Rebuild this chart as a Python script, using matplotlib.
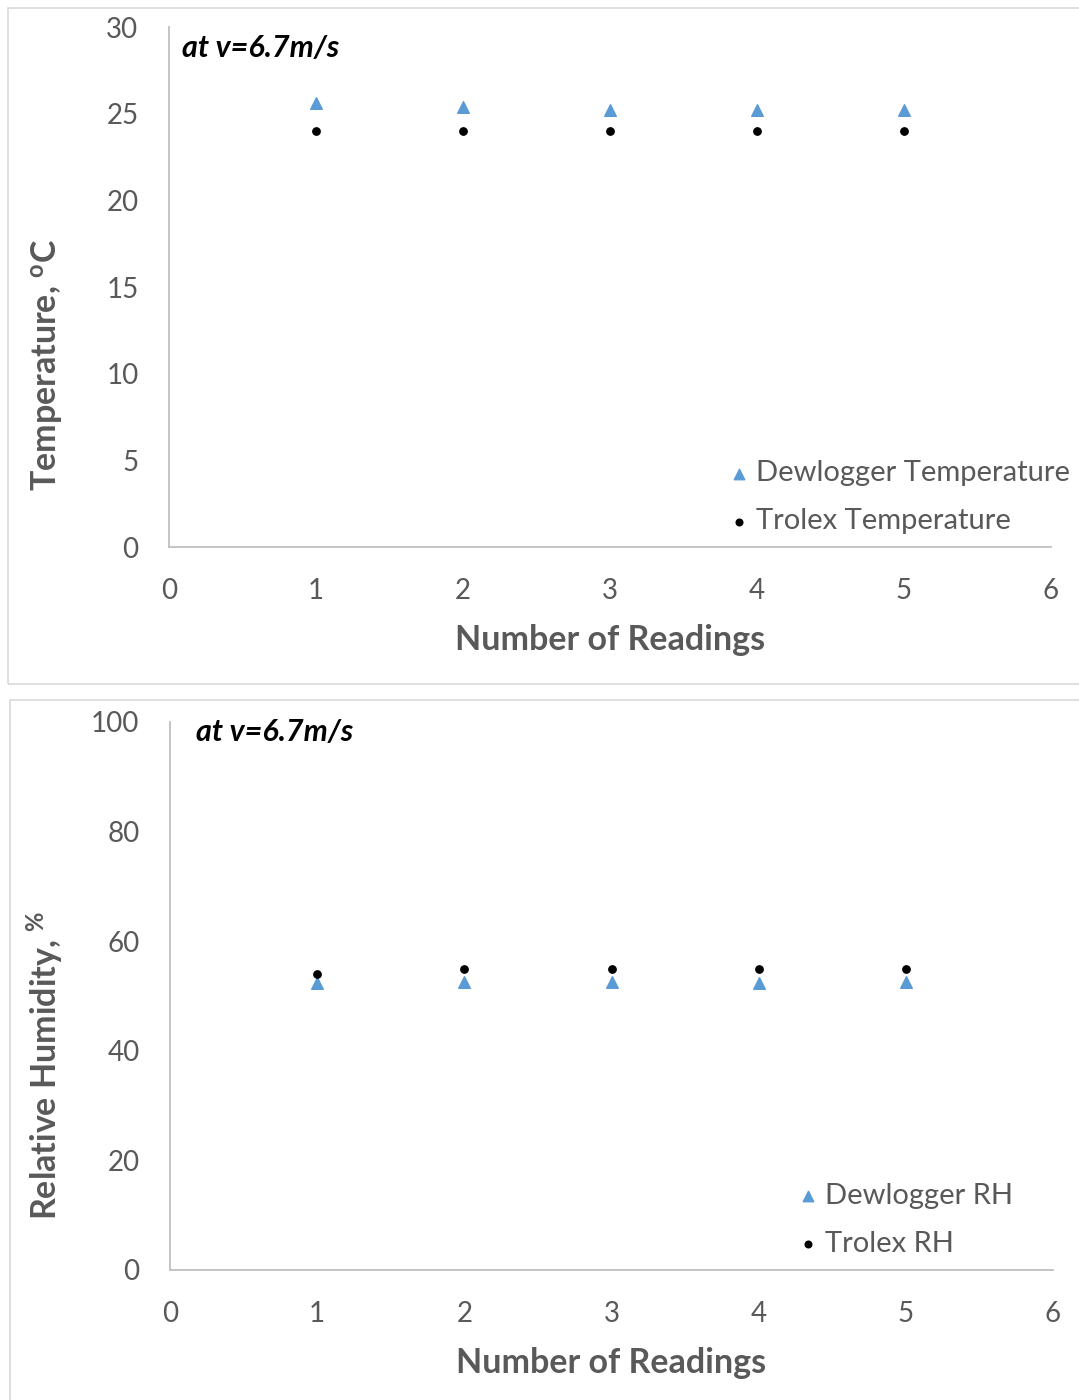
import matplotlib
matplotlib.use("Agg")
import matplotlib.pyplot as plt
from matplotlib.patches import Rectangle

# data
readings = [1, 2, 3, 4, 5]
dew_temp = [25.6, 25.4, 25.2, 25.2, 25.2]
trolex_temp = [24.0, 24.0, 24.0, 24.0, 24.0]
dew_rh = [52.3, 52.6, 52.6, 52.3, 52.6]
trolex_rh = [54.1, 55.0, 55.0, 55.0, 55.0]

plt.rcParams['font.family'] = ['Lato', 'DejaVu Sans']
plt.rcParams['mathtext.fontset'] = 'custom'
plt.rcParams['mathtext.rm'] = 'Lato'
plt.rcParams['mathtext.bf'] = 'Lato:bold'

W, H = 1079, 1400
fig = plt.figure(figsize=(W / 100, H / 100), dpi=100)
GRAY = '#595959'
TRI = '#5b9bd5'


def px_axes(x0, y0, x1, y1):
    return fig.add_axes([x0 / W, 1 - y1 / H, (x1 - x0) / W, (y1 - y0) / H])


def panel_border(x0, y0, x1, y1):
    fig.patches.append(Rectangle((x0 / W, 1 - y1 / H), (x1 - x0) / W, (y1 - y0) / H,
                                 transform=fig.transFigure, fill=False,
                                 edgecolor='#d9d9d9', linewidth=1.2))


def style(ax, ymax, ystep, ylabel, names, series_a, series_b, ylab_pos, leg_anchor, note_pos):
    ax.scatter(readings, series_a, marker='^', s=70, color=TRI, label=names[0], zorder=3)
    ax.scatter(readings, series_b, marker='o', s=28, color='black', label=names[1], zorder=3)
    ax.set_xlim(0, 6)
    ax.set_ylim(0, ymax)
    ax.set_xticks(range(0, 7))
    ax.set_yticks(range(0, ymax + 1, ystep))
    for s in ['top', 'right']:
        ax.spines[s].set_visible(False)
    for s in ['left', 'bottom']:
        ax.spines[s].set_color('#bfbfbf')
        ax.spines[s].set_linewidth(1.3)
    ax.tick_params(length=0, labelsize=20, labelcolor=GRAY)
    ax.tick_params(axis='x', pad=22)
    ax.tick_params(axis='y', pad=22)
    ax.set_xlabel('Number of Readings', fontsize=24.5, fontweight='bold', color=GRAY, labelpad=15)
    ax.set_ylabel(ylabel, fontsize=24.5, fontweight='bold', color=GRAY)
    ax.yaxis.set_label_coords(*ylab_pos)
    ax.text(note_pos[0], note_pos[1], 'at v=6.7m/s', transform=ax.transAxes, fontsize=22,
            fontweight='bold', fontstyle='italic', color='black', va='center', ha='left')
    leg = ax.legend(loc='lower right', frameon=False, fontsize=21, handletextpad=0.15,
                    handlelength=0.9, labelspacing=0.75, borderaxespad=0.0,
                    markerscale=0.9, bbox_to_anchor=leg_anchor)
    for t in leg.get_texts():
        t.set_color(GRAY)


panel_border(8, 8, 1090, 684)
panel_border(10, 700, 1090, 1410)

ax1 = px_axes(169, 27, 1051, 547)
style(ax1, 30, 5, r'Temperature, $\mathbf{^{o}}$C',
      ['Dewlogger Temperature', 'Trolex Temperature'], dew_temp, trolex_temp,
      (-0.118, 0.35), (1.035, 0.002), (0.015, 0.96))

ax2 = px_axes(170, 722, 1053, 1270)
style(ax2, 100, 20, r'Relative Humidity, $\mathbf{^{\%}}$',
      ['Dewlogger RH', 'Trolex RH'], dew_rh, trolex_rh,
      (-0.118, 0.374), (0.968, 0.003), (0.03, 0.982))

fig.savefig('out.png', dpi=100, facecolor='white')
